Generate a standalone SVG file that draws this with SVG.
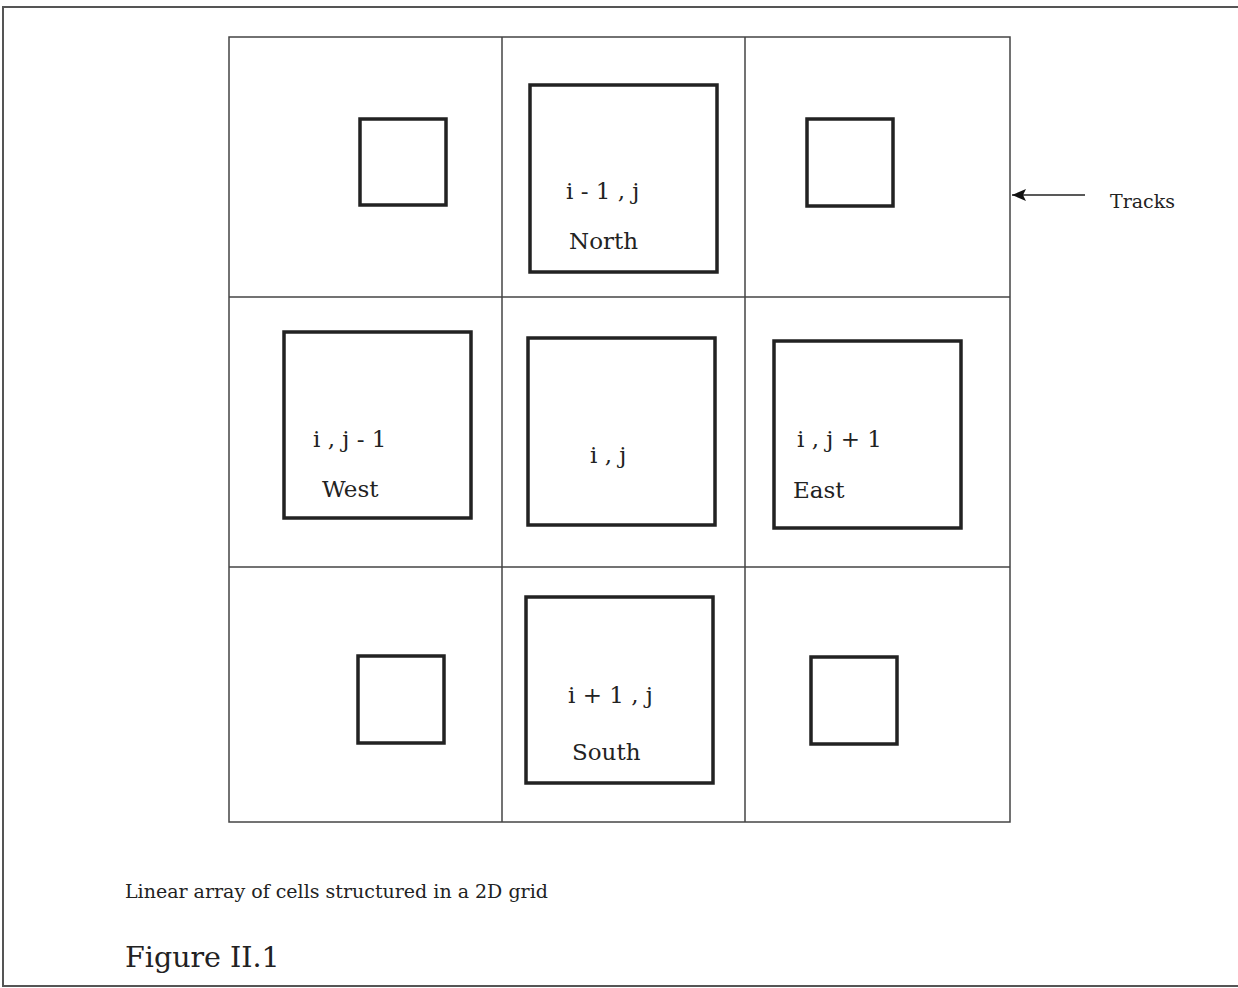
<svg xmlns="http://www.w3.org/2000/svg" width="1238" height="988" viewBox="0 0 1238 988">
  <style>
    .frame { fill: none; stroke: #555; stroke-width: 2; }
    .grid { fill: none; stroke: #444; stroke-width: 1.5; }
    .cell { fill: none; stroke: #222; stroke-width: 3.5; }
    .lbl { font-family: "DejaVu Serif", "Liberation Serif", serif; font-size: 23px; fill: #222; }
    .cap { font-family: "DejaVu Serif", "Liberation Serif", serif; fill: #222; }
  </style>
  <defs>
    <!-- arrowhead drawn along +x, tip at the end of the line -->
    <marker id="arrow" markerWidth="14" markerHeight="12" refX="14" refY="6" orient="auto" markerUnits="userSpaceOnUse">
      <path d="M0,0 L14,6 L0,12 L3,6 Z" fill="#111"/>
    </marker>
  </defs>
  <rect width="1238" height="988" fill="#fff"/>

  <!-- page frame -->
  <path class="frame" d="M1238,7 L3,7 L3,986 L1238,986"/>

  <!-- track grid -->
  <g id="grid">
    <rect class="grid" x="229" y="37" width="781" height="785"/>
    <line class="grid" x1="502" y1="37" x2="502" y2="822"/>
    <line class="grid" x1="745" y1="37" x2="745" y2="822"/>
    <line class="grid" x1="229" y1="297" x2="1010" y2="297"/>
    <line class="grid" x1="229" y1="567" x2="1010" y2="567"/>
  </g>

  <!-- corner cells -->
  <g id="cell-nw"><rect class="cell" x="360" y="119" width="86" height="86"/></g>
  <g id="cell-ne"><rect class="cell" x="807" y="119" width="86" height="87"/></g>
  <g id="cell-sw"><rect class="cell" x="358" y="656" width="86" height="87"/></g>
  <g id="cell-se"><rect class="cell" x="811" y="657" width="86" height="87"/></g>

  <!-- neighbour cells -->
  <g id="cell-north">
    <rect class="cell" x="530" y="85" width="187" height="187"/>
    <text class="lbl" x="566" y="199">i - 1 , j</text>
    <text class="lbl" x="569" y="249">North</text>
  </g>
  <g id="cell-center">
    <rect class="cell" x="528" y="338" width="187" height="187"/>
    <text class="lbl" x="590" y="463">i , j</text>
  </g>
  <g id="cell-west">
    <rect class="cell" x="284" y="332" width="187" height="186"/>
    <text class="lbl" x="313" y="447">i , j - 1</text>
    <text class="lbl" x="322" y="497">West</text>
  </g>
  <g id="cell-east">
    <rect class="cell" x="774" y="341" width="187" height="187"/>
    <text class="lbl" x="797" y="447">i , j + 1</text>
    <text class="lbl" x="793" y="498">East</text>
  </g>
  <g id="cell-south">
    <rect class="cell" x="526" y="597" width="187" height="186"/>
    <text class="lbl" x="568" y="703">i + 1 , j</text>
    <text class="lbl" x="572" y="760">South</text>
  </g>

  <!-- connectors -->
  <g id="connectors">
    <line x1="1085" y1="195" x2="1012" y2="195" stroke="#222" stroke-width="1.5" marker-end="url(#arrow)"/>
  </g>
  <g id="tracks-label">
    <text class="cap" x="1110" y="208" font-size="19">Tracks</text>
  </g>

  <!-- caption -->
  <text class="cap" x="125" y="898" font-size="19">Linear array of cells structured in a 2D grid</text>
  <text class="cap" x="125" y="967" font-size="28.5">Figure II.1</text>
</svg>
